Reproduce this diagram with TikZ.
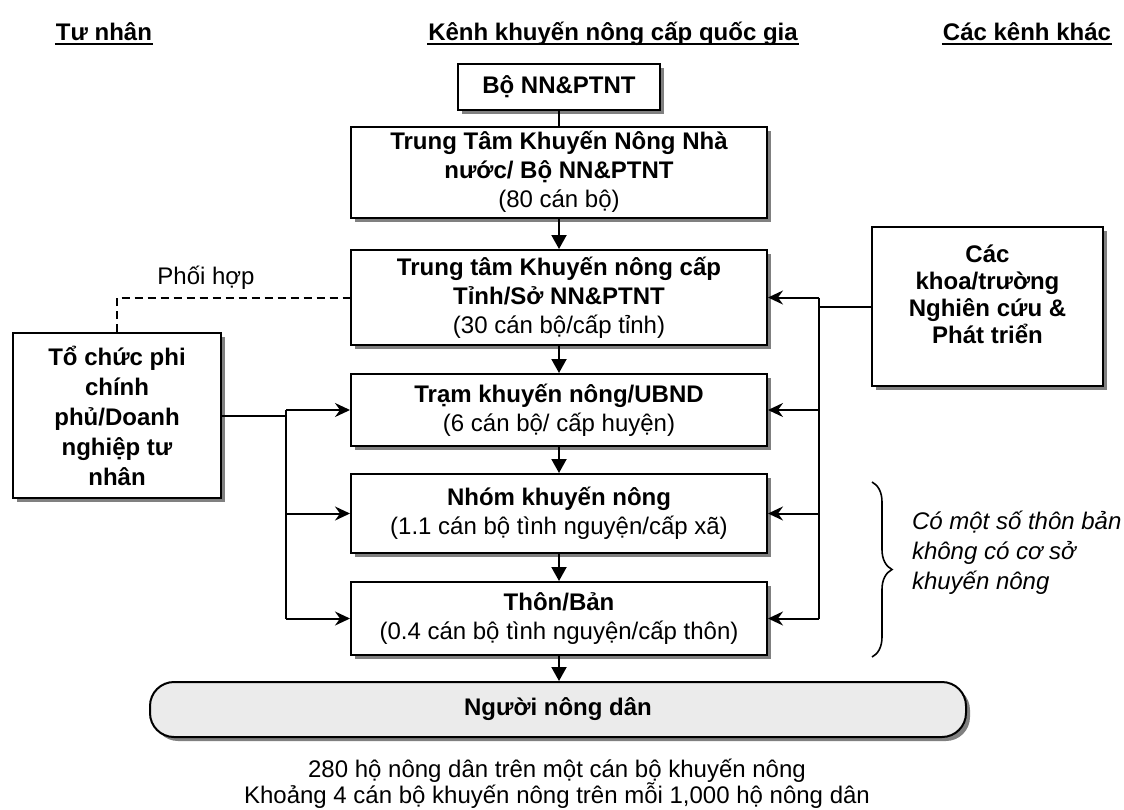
\documentclass[tikz,border=0pt]{standalone}
\usepackage{fontspec}
\setmainfont{Liberation Sans}
\usetikzlibrary{arrows.meta,shadows,decorations.pathreplacing}

\begin{document}
\begin{tikzpicture}[x=0.5pt,y=-0.5pt,line width=1pt,>={Stealth[length=7.5pt,width=7pt,inset=2.5pt]},
		font=\fontsize{12}{14.5}\selectfont,
		box/.style={draw,fill=white,align=center,inner sep=1pt,
			drop shadow={shadow xshift=2pt,shadow yshift=-2pt,fill=black!50,opacity=1}},
		flow/.style={-{Triangle[length=7pt,width=7.5pt]}},
		feed/.style={->},
		coop/.style={dash pattern=on 4pt off 2.5pt},
		header/.style={font=\fontsize{12}{14.5}\selectfont\bfseries,anchor=base,inner sep=0pt},
		uline/.style={line width=1.3pt}]

			\useasboundingbox (0,0) rectangle (1124,809);

			\node [header] (tunhan) at (104,40) {Tư nhân};
			\node [header] (kenhqg) at (613,40) {Kênh khuyến nông cấp quốc gia};
			\node [header] (kenhkhac) at (1027,40) {Các kênh khác};
			\foreach \h in {tunhan,kenhqg,kenhkhac}
				\draw [uline] ([yshift=-2pt]\h.base west) -- ([yshift=-2pt]\h.base east);

			\node [box, minimum width=101pt, minimum height=23pt] (bo) at (559,87) {\textbf{Bộ NN\&PTNT}};
			\node [box, minimum width=208pt, minimum height=45.5pt] (tw) at (559,172)
				{\textbf{Trung Tâm Khuyến Nông Nhà}\\\textbf{nước/ Bộ NN\&PTNT}\\(80 cán bộ)};
			\node [box, minimum width=208pt, minimum height=47.5pt] (tinh) at (559,297.5)
				{\textbf{Trung tâm Khuyến nông cấp}\\\textbf{Tỉnh/Sở NN\&PTNT}\\(30 cán bộ/cấp tỉnh)};
			\node [box, minimum width=208pt, minimum height=36pt] (tram) at (559,410)
				{\textbf{Trạm khuyến nông/UBND}\\(6 cán bộ/ cấp huyện)};
			\node [box, minimum width=208pt, minimum height=39.5pt] (nhom) at (559,513.5)
				{\textbf{Nhóm khuyến nông}\\(1.1 cán bộ tình nguyện/cấp xã)};
			\node [box, minimum width=208pt, minimum height=36.5pt] (thon) at (559,618.5)
				{\textbf{Thôn/Bản}\\(0.4 cán bộ tình nguyện/cấp thôn)};
			\node [box, fill=black!8, rounded corners=12pt, minimum width=408pt, minimum height=27.5pt] (nguoi) at (558,709.5)
				{\textbf{Người nông dân}};

			\node [box, minimum width=104pt, minimum height=82.5pt, font=\fontsize{12}{15}\selectfont\bfseries] (tochuc) at (117,415.5)
				{Tổ chức phi\\chính\\phủ/Doanh\\nghiệp tư\\nhân};
			\node [box, minimum width=115.5pt, minimum height=79.5pt, font=\fontsize{12}{13.5}\selectfont\bfseries] (khoa) at (987.5,306.5)
				{Các\\khoa/trường\\Nghiên cứu \&\\Phát triển\\[-1pt]};

			\node [anchor=west, align=left, inner sep=0pt, font=\fontsize{12}{15}\selectfont\itshape] (thieu) at (911,553)
				{Có một số thôn bản\\không có cơ sở\\khuyến nông};
			\draw [line width=0.8pt, decorate, decoration={brace, amplitude=10pt}] (872,482) -- (872,657);

			\node [align=center, font=\fontsize{12}{13}\selectfont] (ghichu) at (557,784)
				{280 hộ nông dân trên một cán bộ khuyến nông\\Khoảng 4 cán bộ khuyến nông trên mỗi 1,000 hộ nông dân};

			\node (phoihop) at (206,278) {Phối hợp};

			\coordinate (rbus) at (819,0);
			\coordinate (lbus) at (286,0);

			\draw (bo) -- (tw);
			\foreach \a/\b in {tw/tinh,tinh/tram,tram/nhom,nhom/thon}
				\draw [flow] (\a) -- (\b);
			\draw [flow] (thon.south) -- (thon.south |- nguoi.north);

			\draw (khoa.west) -- (khoa.west -| rbus);
			\draw (tinh.east -| rbus) -- (thon.east -| rbus);
			\foreach \n in {tinh,tram,nhom,thon}
				\draw [feed] (\n.east -| rbus) -- (\n.east);

			\draw (tochuc.east) -- (tochuc.east -| lbus);
			\draw (tram.west -| lbus) -- (thon.west -| lbus);
			\foreach \n in {tram,nhom,thon}
				\draw [feed] (\n.west -| lbus) -- (\n.west);

			\draw [coop] (tochuc.north) |- (tinh.west);
		\end{tikzpicture}
\end{document}
